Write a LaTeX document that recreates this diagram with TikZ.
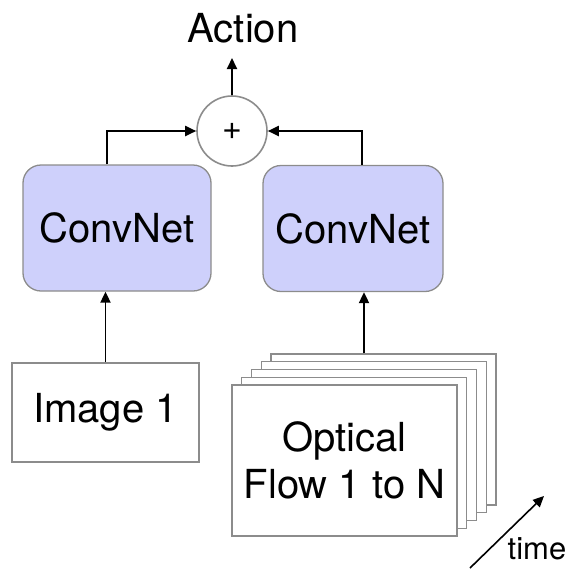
\documentclass[tikz,border=0pt]{standalone}
\usepackage{fontspec}
\setmainfont{TeX Gyre Heros}
\usetikzlibrary{arrows.meta,calc}
\definecolor{netfill}{RGB}{206,208,251}
\definecolor{edgegray}{RGB}{140,140,140}
\tikzset{
  arr/.style={line width=1.9pt,-{Triangle[length=11pt,width=10pt]}},
  netbox/.style={draw=edgegray,line width=1.3pt,fill=netfill,rounded corners=18pt,
    minimum width=#1,minimum height=126pt,inner sep=0pt,
    font=\fontsize{40}{47}\selectfont},
  framebox/.style={draw=edgegray,line width=1.3pt,fill=white,inner sep=0pt,
    align=center,font=\fontsize{40}{47}\selectfont},
  sumnode/.style={draw=edgegray,line width=1.6pt,fill=white,circle,
    minimum size=70pt,inner sep=0pt,font=\fontsize{34}{36}\selectfont},
  bigtext/.style={font=\fontsize{40}{47}\selectfont,inner sep=0pt},
}
\begin{document}
\begin{tikzpicture}[x=1pt,y=-1pt]
\useasboundingbox (0,0) rectangle (572,568);

% summation and output
\node[sumnode] (plus) at (232,131) {+};
\node[bigtext] (action) at (243,28) {Action};
\coordinate (actend) at (232,58);

% the two networks
\node[netbox=188pt] (lnet) at (117,228) {ConvNet};
\node[netbox=180pt] (rnet) at (353,228.5) {ConvNet};

% single image input
\node[framebox,minimum width=187pt,minimum height=99pt] (img) at (105.5,412.5) {Image 1};

% stack of optical flow frames, back to front
\foreach \k in {4,3,2,1} {
  \node[framebox,minimum width=225pt,minimum height=151pt] (flow\k)
    at ({344.5+9.75*\k},{460.5-7.75*\k}) {};
}
\node[framebox,minimum width=225pt,minimum height=151pt] (flow0) at (344.5,460.5)
  {Optical\\Flow 1 to N};

% time axis
\coordinate (tstart) at (470,568);
\coordinate (tend) at (544,496);
\node[font=\fontsize{31}{33}\selectfont,inner sep=0pt] (time) at (537,549) {time};

% connectors
\draw[arr] (plus.north) -- (actend);
\draw[arr] (img.north) -- (img.north |- lnet.south);
\draw[arr] (364,0 |- flow4.north) -- (364,0 |- rnet.south);
\draw[arr] (107,0 |- lnet.north) |- (plus.west);
\draw[arr] (362,0 |- rnet.north) |- (plus.east);
\draw[line width=1.6pt,-{Triangle[length=11pt,width=10pt]}] (tstart) -- (tend);
\end{tikzpicture}
\end{document}
